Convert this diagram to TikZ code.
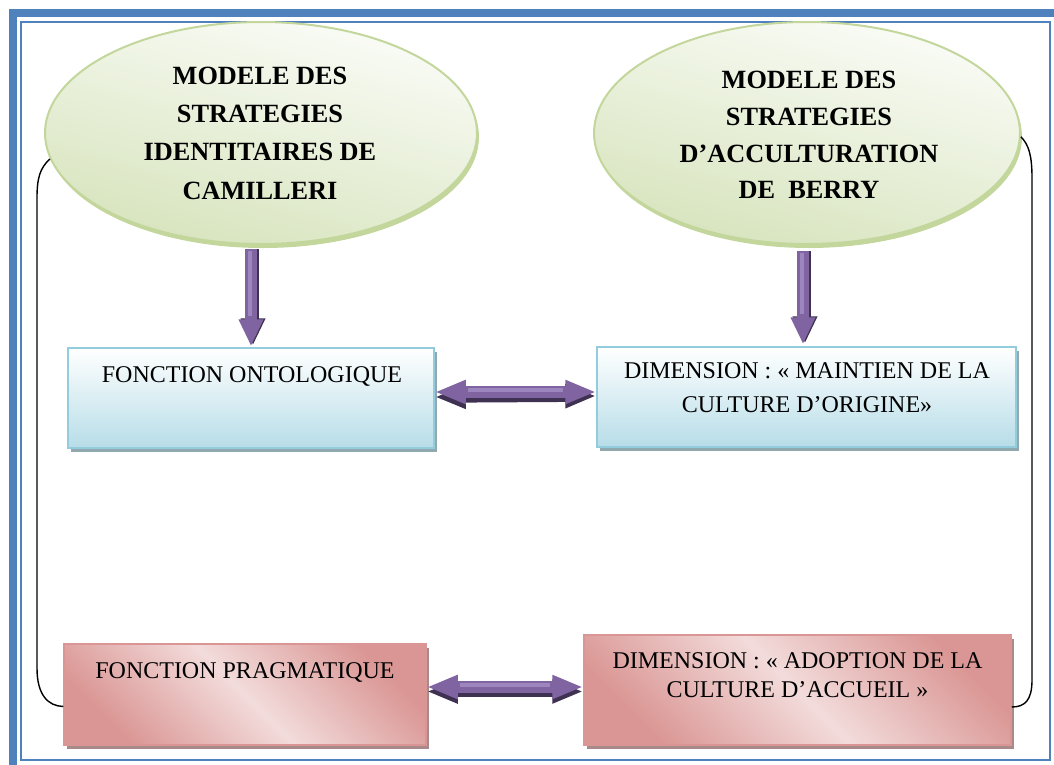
\documentclass[tikz,border=0pt]{standalone}
\usepackage{fontspec}
\setmainfont{Liberation Serif}
\usetikzlibrary{shapes.geometric,shadows,arrows.meta,calc}
\definecolor{frameblue}{HTML}{4F81BD}
\definecolor{ellfill}{HTML}{D7E4BD}
\definecolor{elledge}{HTML}{C3D69B}
\definecolor{ellshadow}{HTML}{9BBB59}
\definecolor{bluefill}{HTML}{B7DDE8}
\definecolor{blueedge}{HTML}{93CDDD}
\definecolor{blueshadow}{HTML}{8FA9AE}
\definecolor{pinkdark}{HTML}{DA9694}
\definecolor{pinklight}{HTML}{F2DCDB}
\definecolor{pinkedge}{HTML}{D99694}
\definecolor{pinkshadow}{HTML}{A88A8A}
\definecolor{arrpurple}{HTML}{8064A2}
\definecolor{arrlight}{HTML}{9D86BE}
\definecolor{arrdark}{HTML}{3F3151}
\tikzset{
  ell/.style={ellipse, inner sep=0pt, draw=elledge, line width=2pt,
    top color=ellfill!12, bottom color=ellfill, shading angle=-15,
    drop shadow={shadow xshift=2pt, shadow yshift=-4pt, fill=ellshadow, opacity=0.6}},
  bluebox/.style={rectangle, inner sep=0pt, draw=blueedge, line width=1.5pt,
    top color=white, bottom color=bluefill,
    drop shadow={shadow xshift=3pt, shadow yshift=-4pt, fill=blueshadow, opacity=1}},
  pinkbox/.style={rectangle, inner sep=0pt, draw=pinkedge, line width=1.5pt,
    left color=pinkdark, right color=pinkdark, middle color=pinklight, shading angle=-45,
    drop shadow={shadow xshift=3pt, shadow yshift=-4pt, fill=pinkshadow, opacity=1}},
  elltextL/.style={font=\fontsize{26.3}{38.3}\selectfont\bfseries, inner sep=0pt},
  elltextR/.style={font=\fontsize{26.3}{36.7}\selectfont\bfseries, inner sep=0pt},
  boxtext/.style={font=\fontsize{24}{34}\selectfont, inner sep=0pt, align=center},
  fatshadow/.style={draw=arrdark, line width=11.5pt},
  fatmain/.style={draw=arrpurple, line width=11.5pt},
  fatlight/.style={draw=arrlight, line width=4pt},
  onehead/.style={-{Triangle[width=23pt,length=27pt]}},
  twoheads/.style={{Triangle[width=22pt,length=31pt]}-{Triangle[width=22pt,length=31pt]}},
  link/.style={draw=black, line width=1.4pt}
}
\begin{document}
\begin{tikzpicture}[x=1pt,y=-1pt]
\useasboundingbox (0,0) rectangle (1054,764);
% frame
\draw[frameblue, line width=8pt] (13,13) rectangle (1075,790);
\draw[frameblue, line width=2pt] (20.5,22) rectangle (1050,760);

% ellipses
\node[ell, minimum width=432pt, minimum height=222pt] (e1) at (261,133) {};
\node[ell, minimum width=426pt, minimum height=222pt] (e2) at (807,133) {};
\node[elltextL, align=center] (t1) at (260,133) {MODELE DES\\STRATEGIES\\IDENTITAIRES DE\\CAMILLERI};
\node[elltextR, align=center] (t2) at (809,135) {MODELE DES\\STRATEGIES\\D’ACCULTURATION\\DE\ \ BERRY};

% boxes
\node[bluebox, minimum width=366pt, minimum height=100pt] (b1) at (251,398) {};
\node[bluebox, minimum width=419pt, minimum height=100pt] (b2) at (806.5,397) {};
\node[pinkbox, minimum width=362pt, minimum height=101pt] (p1) at (245,694.5) {};
\node[pinkbox, minimum width=427pt, minimum height=110pt] (p2) at (797.5,690) {};

\node[boxtext, anchor=base] (tb1) at (252,382) {FONCTION ONTOLOGIQUE};
\node[boxtext, anchor=center] (tb2) at (807,388) {DIMENSION : « MAINTIEN DE LA\\CULTURE D’ORIGINE»};
\node[boxtext, anchor=base] (tp1) at (245,678) {FONCTION PRAGMATIQUE};
\node[boxtext, anchor=center, font=\fontsize{24}{29}\selectfont] (tp2) at (797.5,675) {DIMENSION : « ADOPTION DE LA\\CULTURE D’ACCUEIL »};

% black connectors
\draw[link] (e1.187) .. controls (40,168) and (37,178) .. (37,198) -- (37,668)
  .. controls (37,695) and (48,706) .. ([yshift=-12pt]p1.west);
\draw[link] (e2.-1) .. controls (1029,145) and (1032,156) .. (1032,178) -- (1032,680)
  .. controls (1032,700) and (1025,707) .. ([yshift=-17pt]p2.east);

% vertical arrows
\coordinate (a1s) at ($(b1.north |- e1.south)+(0,4)$);
\coordinate (a1e) at ([yshift=1pt]b1.north);
\coordinate (a2s) at ($([xshift=-3.5pt]b2.north |- e2.south)+(0,6)$);
\coordinate (a2e) at ([xshift=-3.5pt,yshift=2pt]b2.north);
\draw[fatshadow, onehead] ([xshift=2pt]a1s) -- ([xshift=2pt,yshift=1pt]a1e);
\draw[fatmain, onehead] (a1s) -- (a1e);
\draw[fatlight] ($(a1s)+(-1.5,2)$) -- ($(a1e)+(-1.5,-30)$);
\draw[fatshadow, onehead] ([xshift=2pt]a2s) -- ([xshift=2pt,yshift=1pt]a2e);
\draw[fatmain, onehead] (a2s) -- (a2e);
\draw[fatlight] ($(a2s)+(-1.5,2)$) -- ($(a2e)+(-1.5,-30)$);

% horizontal arrows
\draw[fatshadow, twoheads] ([yshift=1pt]b1.east) -- ([yshift=1pt]b2.west);
\draw[fatmain, twoheads] ([yshift=6pt]b1.east) -- ([yshift=5pt]b2.west);
\draw[fatlight] ($([yshift=8pt]b1.east)+(33,0)$) -- ($([yshift=7pt]b2.west)+(-33,0)$);
\draw[fatshadow, twoheads] ([yshift=3pt]p1.east) -- ([yshift=-1.5pt]p2.west);
\draw[fatmain, twoheads] ([yshift=7.5pt]p1.east) -- ([yshift=3pt]p2.west);
\draw[fatlight] ($([yshift=9.5pt]p1.east)+(33,0)$) -- ($([yshift=5pt]p2.west)+(-33,0)$);
\end{tikzpicture}
\end{document}
